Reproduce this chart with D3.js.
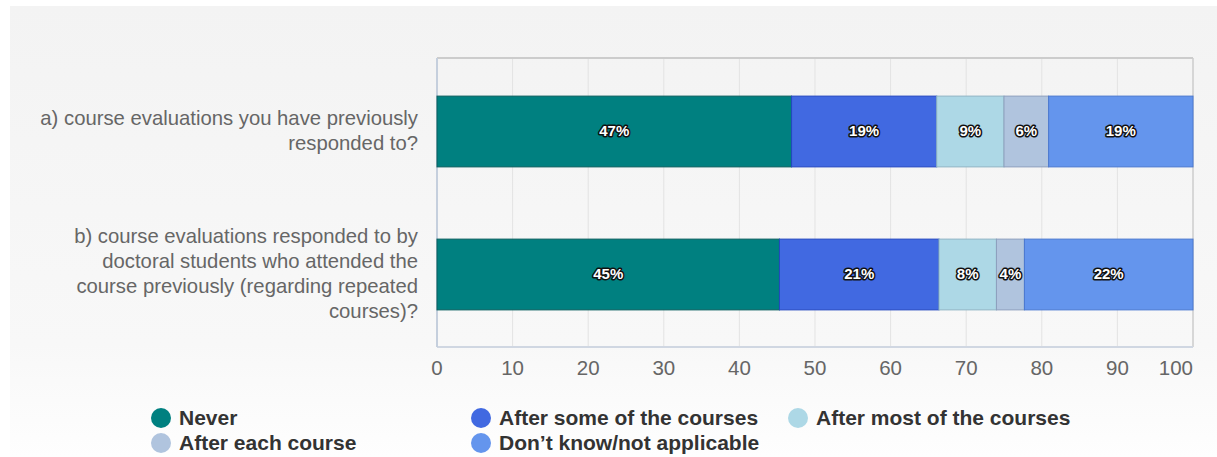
<!DOCTYPE html>
<html><head><meta charset="utf-8">
<script src="https://cdn.jsdelivr.net/npm/d3@7"></script>
<style>
html,body{margin:0;padding:0;background:#fff;}
svg{display:block;}
</style></head>
<body>
<svg id="chart" width="1217" height="457"></svg>
<script>
const categories = [
  ["a) course evaluations you have previously", "responded to?"],
  ["b) course evaluations responded to by", "doctoral students who attended the", "course previously (regarding repeated", "courses)?"]
];
const categoryKeys = ["a", "b"];
const seriesNames = ["Never", "After some of the courses", "After most of the courses", "After each course", "Don\u2019t know/not applicable"];
const seriesColors = ["#008080", "#4169e1", "#add8e6", "#b0c4de", "#6495ed"];
const seriesStrokes = ["#0a5e5e", "#2448c0", "#8fb4c4", "#8d9fbd", "#4a78d0"];
const valuesA = [46.9, 19.2, 8.9, 5.9, 19.1];
const valuesB = [45.3, 21.1, 7.6, 3.7, 22.3];
const xTicks = [0, 10, 20, 30, 40, 50, 60, 70, 80, 90, 100];

const svg = d3.select("#chart");
const defs = svg.append("defs");
const grad = defs.append("linearGradient").attr("id","bg").attr("x1",0).attr("y1",0).attr("x2",0).attr("y2",1);
grad.append("stop").attr("offset","0%").attr("stop-color","#f3f3f3");
grad.append("stop").attr("offset","75%").attr("stop-color","#f8f8f8");
grad.append("stop").attr("offset","100%").attr("stop-color","#fefefe");
svg.append("rect").attr("x",10).attr("y",6).attr("width",1207).attr("height",451).attr("fill","url(#bg)");

const x = d3.scaleLinear().domain([0,100]).range([437,1193]);
const y = d3.scaleBand().domain(categoryKeys).range([60,346]).paddingInner(0.505).paddingOuter(0.2525);
const plotTop = 58, plotBottom = 347;

// grid
svg.append("g").selectAll("line").data(xTicks.slice(1,-1)).join("line")
  .attr("x1",d=>x(d)).attr("x2",d=>x(d)).attr("y1",plotTop).attr("y2",plotBottom)
  .attr("stroke","#e3e3e3").attr("stroke-width",1);
// borders
svg.append("line").attr("x1",x(0)).attr("x2",x(100)).attr("y1",plotTop).attr("y2",plotTop).attr("stroke","#cccccc").attr("stroke-width",2);
svg.append("line").attr("x1",x(100)).attr("x2",x(100)).attr("y1",plotTop).attr("y2",plotBottom).attr("stroke","#cccccc").attr("stroke-width",1.5);
svg.append("line").attr("x1",x(0)).attr("x2",x(100)).attr("y1",plotBottom).attr("y2",plotBottom).attr("stroke","#d0d7e2").attr("stroke-width",2);
svg.append("line").attr("x1",x(0)).attr("x2",x(0)).attr("y1",plotTop).attr("y2",plotBottom).attr("stroke","#c5cfdd").attr("stroke-width",2);

// bars
const rows = [valuesA, valuesB];
rows.forEach((vals, ri) => {
  let acc = 0;
  const segs = vals.map((v,i)=>{ const s = {start:acc, v, i}; acc += v; return s; });
  const g = svg.append("g");
  g.selectAll("rect").data(segs).join("rect")
    .attr("x",d=>x(d.start)).attr("y",y(categoryKeys[ri]))
    .attr("width",d=>x(d.start+d.v)-x(d.start)).attr("height",y.bandwidth())
    .attr("fill",d=>seriesColors[d.i]).attr("stroke",d=>seriesStrokes[d.i]).attr("stroke-width",1);
  g.selectAll("text").data(segs).join("text")
    .attr("x",d=>(x(d.start)+x(d.start+d.v))/2).attr("y",y(categoryKeys[ri])+y.bandwidth()/2+1)
    .attr("text-anchor","middle").attr("dominant-baseline","middle")
    .attr("font-family","'Liberation Sans Narrow','Arial Narrow','Liberation Sans',Arial,sans-serif")
    .attr("font-weight","bold").attr("font-size","15px")
    .attr("fill","#fff").attr("stroke","#111").attr("stroke-width",3).attr("stroke-linejoin","round")
    .attr("paint-order","stroke")
    .text(d=>Math.round(d.v)+"%");
});

// category labels
categories.forEach((lines, ri) => {
  const cy = y(categoryKeys[ri]) + y.bandwidth()/2 + 1;
  const lh = 25;
  const t = svg.append("text").attr("text-anchor","end")
    .attr("font-family","'Liberation Sans',Arial,sans-serif").attr("font-size","20.3px").attr("fill","#666");
  lines.forEach((ln, li) => {
    t.append("tspan").attr("x",418).attr("y", cy + (li - (lines.length-1)/2)*lh).attr("dominant-baseline","middle").text(ln);
  });
});

// x axis labels
svg.append("g").selectAll("text").data(xTicks).join("text")
  .attr("x",d=>x(d)).attr("y",370)
  .attr("text-anchor",d=>d===100?"end":"middle").attr("dominant-baseline","middle")
  .attr("font-family","'Liberation Sans',Arial,sans-serif").attr("font-size","20.5px").attr("fill","#666")
  .text(d=>d);

// legend
const legendPos = [[161,418],[481,418],[798,418],[161,443],[481,443]];
const lg = svg.append("g").selectAll("g").data(seriesNames).join("g")
  .attr("transform",(d,i)=>`translate(${legendPos[i][0]},${legendPos[i][1]})`);
lg.append("circle").attr("r",10).attr("fill",(d,i)=>seriesColors[i]);
lg.append("text").attr("x",18).attr("y",1).attr("dominant-baseline","middle")
  .attr("font-family","'Liberation Sans',Arial,sans-serif").attr("font-weight","bold").attr("font-size","21px").attr("fill","#333")
  .text(d=>d);
</script>
</body></html>
